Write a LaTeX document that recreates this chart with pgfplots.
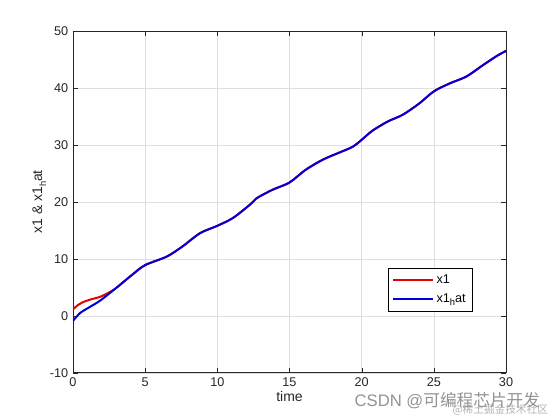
\documentclass[border=0pt]{standalone}
\usepackage{pgfplots}
\pgfplotsset{compat=1.18}
\usepackage{fontspec}
\setmainfont{Liberation Sans}
\newfontfamily\cjk{Noto Sans CJK SC}
\newcommand{\hsub}{\raisebox{-0.55ex}{\fontsize{7}{8}\selectfont h}}

\begin{document}
\begin{tikzpicture}
\begin{axis}[
    scale only axis,
    width=325pt, height=256.5pt,
    xmin=0, xmax=30, ymin=-10, ymax=50,
    xtick={0,5,...,30}, ytick={-10,0,...,50},
    grid=major,
    major grid style={gray!25, line width=0.4pt},
    tick align=inside,
    major tick length=3.5pt,
    axis line style={black!85, line width=0.5pt},
    tick style={black!85},
    /pgf/number format/assume math mode=true,
    tick label style={font=\fontsize{9.5}{11}\selectfont, text=black!85},
    xlabel={time},
    ylabel={x1 \& x1\hsub at},
    label style={font=\fontsize{10.5}{12}\selectfont, text=black!85},
    xlabel style={yshift=3pt},
    ylabel style={yshift=-4pt},
    legend style={at={(0.727,0.307)}, anchor=north west,
        font=\fontsize{9.5}{11}\selectfont, draw=black, line width=0.5pt,
        row sep=2pt, inner xsep=3pt, inner ysep=3pt},
    legend cell align=left,
    legend image post style={xscale=1.75},
]

% x1
\addplot[color=red!90!black, line width=1.5pt, smooth] coordinates {
(0,1.1) (0.3,1.8) (0.7,2.4) (1.2,2.85) (1.9,3.35) (2.5,4.1) (3,4.9) (4.1,7.2) (5,8.9)
(6.5,10.4) (7.6,12.2) (8.8,14.5) (10,15.8) (11.1,17.2) (12.3,19.6) (12.7,20.6)
(13.8,22.1) (15,23.4) (16.1,25.6) (17.3,27.4) (18.4,28.6) (19.4,29.7) (20,30.9)
(20.75,32.5) (21.8,34.1) (22.85,35.3) (24,37.3) (25,39.4) (26.1,40.8)
(27.25,42) (28.4,44) (29.35,45.6) (30,46.5)
};
\addlegendentry{x1}

% x1_hat
\addplot[color=blue!85!black, line width=1.5pt, smooth] coordinates {
(0,-0.9) (0.5,0.5) (1.2,1.6) (1.9,2.7) (3,4.9) (4.1,7.2) (5,8.9)
(6.5,10.4) (7.6,12.2) (8.8,14.5) (10,15.8) (11.1,17.2) (12.3,19.6) (12.7,20.6)
(13.8,22.1) (15,23.4) (16.1,25.6) (17.3,27.4) (18.4,28.6) (19.4,29.7) (20,30.9)
(20.75,32.5) (21.8,34.1) (22.85,35.3) (24,37.3) (25,39.4) (26.1,40.8)
(27.25,42) (28.4,44) (29.35,45.6) (30,46.5)
};
\addlegendentry{x1\hsub at}

\end{axis}
% page margins as in the reference
\path ([shift={(-54.75pt,-35.25pt)}]current axis.south west)
  rectangle ([shift={(40.5pt,23.25pt)}]current axis.north east);
% watermark
\node[anchor=east, text=gray!60, font=\fontsize{8}{9}\selectfont\cjk]
  at ([shift={(35pt,-28pt)}]current axis.south east) {@稀土掘金技术社区};
\node[anchor=east, text=gray!85, font=\fontsize{12.5}{14}\selectfont]
  at ([shift={(29pt,-21pt)}]current axis.south east) {CSDN @{\cjk 可编程芯片开发}};
\end{tikzpicture}
\end{document}
